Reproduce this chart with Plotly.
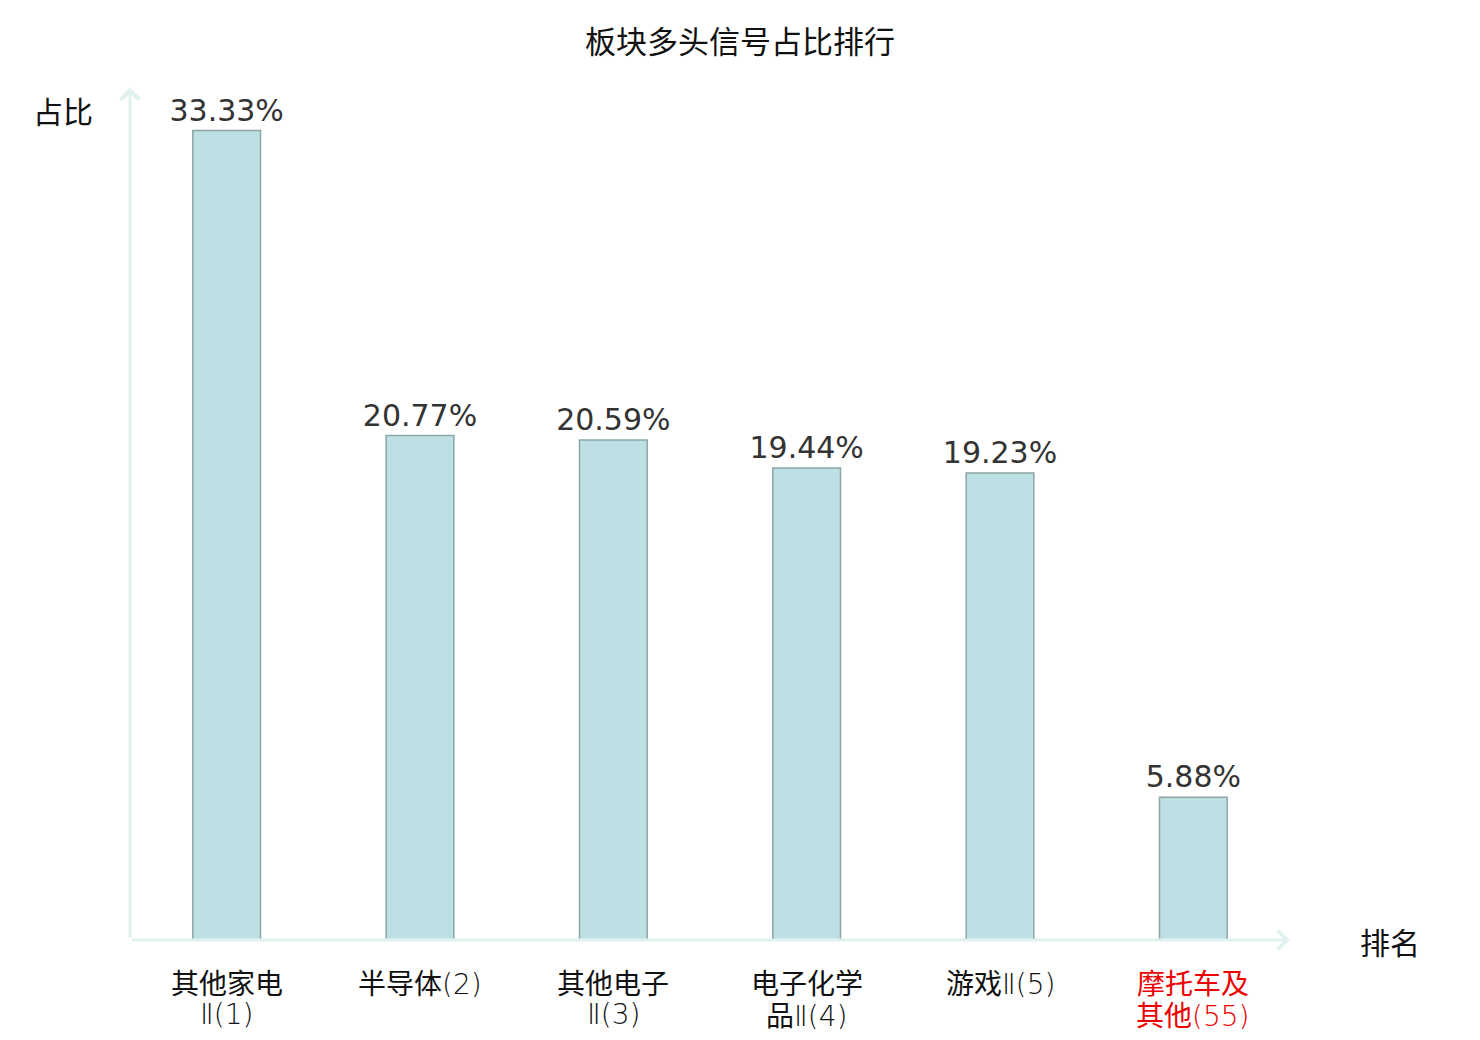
import re
import plotly.graph_objects as go

# 板块多头信号占比排行
sectors = ['其他家电<br>Ⅱ(1)', '半导体(2)', '其他电子<br>Ⅱ(3)', '电子化学<br>品Ⅱ(4)', '游戏Ⅱ(5)', '摩托车及<br>其他(55)']
ratios = [33.33, 20.77, 20.59, 19.44, 19.23, 5.88]
highlight = [False, False, False, False, False, True]

cjk = 'Noto Sans CJK SC'
axis_color = '#dff2ef'

def thinLatin(label):
    # numbers and roman numerals use a light latin face, like the original
    return re.sub(r'([Ⅱ()0-9]+)',
        r'<span style="font-family:DejaVu Sans;font-weight:200">\1</span>', label)

fig = go.Figure()

fig.add_trace(go.Bar(
    x = list(range(len(sectors))),
    y = ratios,
    width = 0.35,
    marker = dict(color = '#bce0e3', line = dict(color = '#8ca6a6', width = 1.5)),
    texttemplate = '%{y:.2f}%',
    textposition = 'outside',
    constraintext = 'none',
    textfont = dict(family = 'DejaVu Sans', size = 30, color = '#333333'),
    cliponaxis = False,
    hoverinfo = 'skip'
))

# page body has an 8px margin: keep the figure inside the 1480x1040 window
fig.update_layout(
    width = 1464,
    height = 1024,
    margin = dict(l = 122, r = 182, t = 82, b = 92),
    plot_bgcolor = 'white',
    paper_bgcolor = 'white',
    showlegend = False,
    title = dict(
        text = '板块多头信号占比排行',
        x = 0.5,
        xanchor = 'center',
        y = 1 - 34 / 1024,
        yanchor = 'middle',
        font = dict(family = cjk, size = 31, color = '#111111')
    ),
    xaxis = dict(
        range = [-0.5, len(sectors) - 0.5],
        showticklabels = False,
        showgrid = False,
        zeroline = False,
        showline = False,
        ticks = '',
        automargin = False
    ),
    yaxis = dict(
        range = [0, 35],
        showticklabels = False,
        showgrid = False,
        zeroline = False,
        showline = False,
        ticks = '',
        automargin = False
    )
)

# category labels, one annotation per line to keep the tight line spacing
for i, (name, hl) in enumerate(zip(sectors, highlight)):
    for j, line in enumerate(name.split('<br>')):
        fig.add_annotation(
            x = i, y = 0, xref = 'x', yref = 'paper',
            text = thinLatin(line), showarrow = False,
            xanchor = 'center', yanchor = 'middle', height = 30,
            yshift = -42 - 32 * j,
            font = dict(family = cjk, size = 28, color = '#ee0000' if hl else '#111111')
        )

# axes drawn as arrows
fig.add_annotation(
    x = 1, y = 0, xref = 'paper', yref = 'paper',
    ax = -1160, ay = 0, axref = 'pixel', ayref = 'pixel',
    text = '', showarrow = True, arrowhead = 4, arrowsize = 1.2,
    arrowwidth = 3, arrowcolor = axis_color
)
fig.add_annotation(
    x = 0, y = 1.003, xref = 'paper', yref = 'paper',
    ax = 0, ay = 852, axref = 'pixel', ayref = 'pixel',
    text = '', showarrow = True, arrowhead = 4, arrowsize = 1.2,
    arrowwidth = 3, arrowcolor = axis_color
)

fig.add_annotation(
    x = (63 - 130) / 1160, y = (940 - 110) / 850, xref = 'paper', yref = 'paper',
    text = '占比', showarrow = False, xanchor = 'center', yanchor = 'middle',
    font = dict(family = cjk, size = 30, color = '#111111')
)
fig.add_annotation(
    x = (1390 - 130) / 1160, y = (940 - 941) / 850, xref = 'paper', yref = 'paper',
    text = '排名', showarrow = False, xanchor = 'center', yanchor = 'middle',
    font = dict(family = cjk, size = 30, color = '#111111')
)

fig.write_html('out.html')
